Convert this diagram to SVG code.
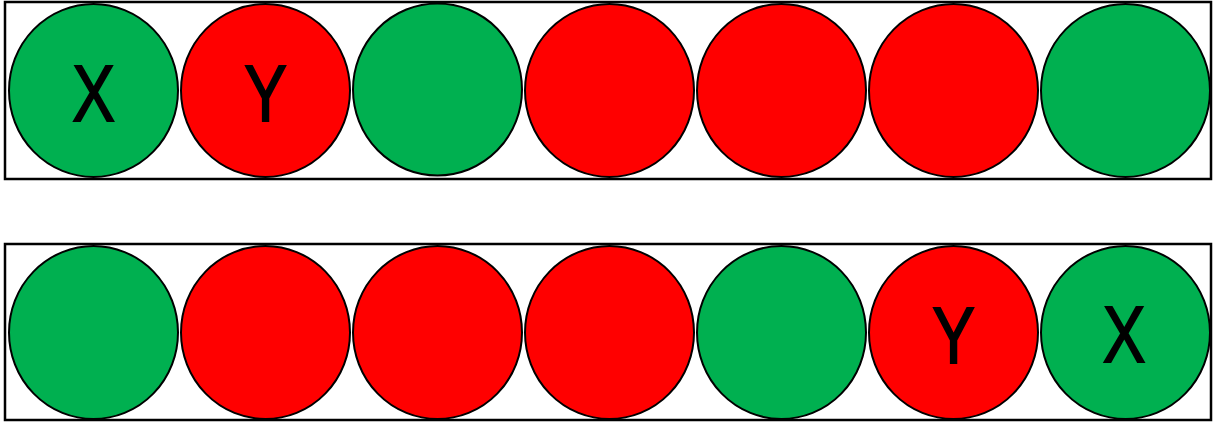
<svg xmlns="http://www.w3.org/2000/svg" width="1214" height="423" viewBox="0 0 1214 423">
<style>
.frame{fill:#fff;stroke:#000;stroke-width:2.5}
.g{fill:#00B050;stroke:#000;stroke-width:2}
.r{fill:#FF0000;stroke:#000;stroke-width:2}
.t{font-family:"Liberation Sans",Arial,sans-serif;font-size:80px;fill:#000;stroke:#000;stroke-width:1.8;text-anchor:middle}
</style>
<rect width="1214" height="423" fill="#fff"/>
<g id="row1">
<rect class="frame" x="5" y="2" width="1206" height="177"/>
<g id="n1"><ellipse class="g" cx="93.5" cy="90.5" rx="84.5" ry="86.5"/><text class="t" transform="translate(93.5 120.5) scale(0.8 1)">X</text></g>
<g id="n2"><ellipse class="r" cx="265.5" cy="90.5" rx="84.5" ry="86.5"/><text class="t" transform="translate(265.5 120.5) scale(0.8 1)">Y</text></g>
<g id="n3"><ellipse class="g" cx="437.5" cy="89.5" rx="84.5" ry="86"/></g>
<g id="n4"><ellipse class="r" cx="609.5" cy="90.5" rx="84.5" ry="86.5"/></g>
<g id="n5"><ellipse class="r" cx="781.5" cy="90.5" rx="84.5" ry="86.5"/></g>
<g id="n6"><ellipse class="r" cx="953.5" cy="90.5" rx="84.5" ry="86.5"/></g>
<g id="n7"><ellipse class="g" cx="1125.5" cy="90.5" rx="84.5" ry="86.5"/></g>
</g>
<g id="row2">
<rect class="frame" x="5" y="244" width="1206" height="176"/>
<g id="m1"><ellipse class="g" cx="93.5" cy="332.5" rx="84.5" ry="86.5"/></g>
<g id="m2"><ellipse class="r" cx="265.5" cy="332.5" rx="84.5" ry="86.5"/></g>
<g id="m3"><ellipse class="r" cx="437.5" cy="332.5" rx="84.5" ry="86.5"/></g>
<g id="m4"><ellipse class="r" cx="609.5" cy="332.5" rx="84.5" ry="86.5"/></g>
<g id="m5"><ellipse class="g" cx="781.5" cy="332.5" rx="84.5" ry="86.5"/></g>
<g id="m6"><ellipse class="r" cx="953.5" cy="332.5" rx="84.5" ry="86.5"/><text class="t" transform="translate(953.5 362.5) scale(0.8 1)">Y</text></g>
<g id="m7"><ellipse class="g" cx="1125.5" cy="332.5" rx="84.5" ry="86.5"/><text class="t" transform="translate(1124 361.5) scale(0.8 1)">X</text></g>
</g>
<g id="connectors"/>
</svg>
